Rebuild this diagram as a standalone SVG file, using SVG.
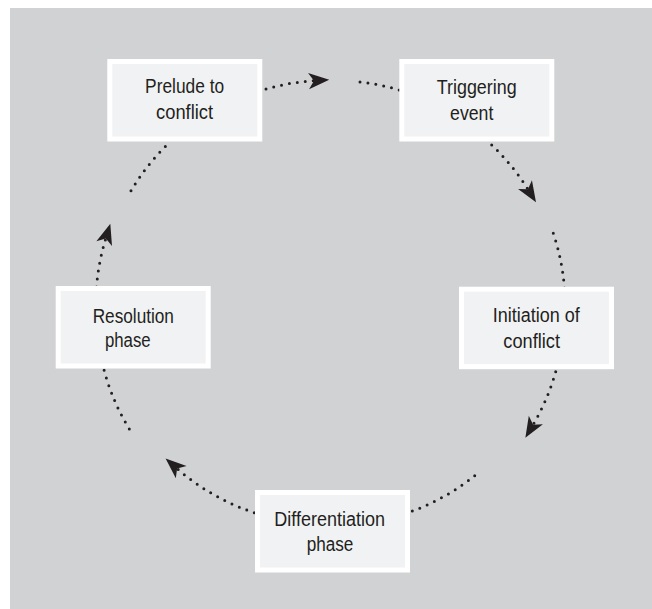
<svg xmlns="http://www.w3.org/2000/svg" width="652" height="609" viewBox="0 0 652 609">
<style>
.box{fill:#f1f2f4;stroke:#ffffff;stroke-width:5}
.lbl{font-family:"Liberation Sans",Arial,sans-serif;font-size:19.5px;fill:#231f20;text-anchor:middle}
.dot{fill:none;stroke:#231f20;stroke-width:3;stroke-linecap:round;stroke-dasharray:0 8}
.arr{marker-end:url(#head)}
</style>
<defs>
<marker id="head" markerUnits="userSpaceOnUse" markerWidth="24" markerHeight="20" viewBox="-1 -9 22 18" refX="5" refY="0" orient="auto">
<path d="M19,0 L0,-7.5 L5,0 L0,7.5 Z" fill="#231f20"/>
</marker>
</defs>
<rect x="10" y="8" width="642" height="601" fill="#d1d2d4"/>
<g id="connectors">
<path class="dot arr" d="M266,89 A225,225 0 0 1 314,80.7"/>
<path class="dot" d="M360,82 A225,225 0 0 1 401,90.5"/>
<path class="dot arr" d="M491.7,145 A225,225 0 0 1 527.9,189.2"/>
<path class="dot" d="M553.3,233.3 A225,225 0 0 1 564.5,289"/>
<path class="dot arr" d="M555.7,371.7 A225,225 0 0 1 533.1,424.7"/>
<path class="dot" d="M474.7,475.7 A225,225 0 0 1 407,513"/>
<path class="dot arr" d="M254.3,512.7 A225,225 0 0 1 177.1,468.6"/>
<path class="dot" d="M129.3,429 A225,225 0 0 1 103,366"/>
<path class="dot arr" d="M96.5,287 A225,225 0 0 1 105.8,238.4"/>
<path class="dot" d="M131,190.7 A225,225 0 0 1 169,143"/>
</g>
<g id="prelude">
<rect class="box" x="109.8" y="61.5" width="150" height="77.5"/>
<text class="lbl" x="184.6" y="93.3" textLength="79" lengthAdjust="spacingAndGlyphs">Prelude to</text>
<text class="lbl" x="184.6" y="119.3" textLength="57" lengthAdjust="spacingAndGlyphs">conflict</text>
</g>
<g id="triggering">
<rect class="box" x="401.8" y="61.5" width="150" height="77.5"/>
<text class="lbl" x="476.7" y="94" textLength="80" lengthAdjust="spacingAndGlyphs">Triggering</text>
<text class="lbl" x="471.7" y="120" textLength="43.3" lengthAdjust="spacingAndGlyphs">event</text>
</g>
<g id="initiation">
<rect class="box" x="461.5" y="289.2" width="150" height="77.5"/>
<text class="lbl" x="536.3" y="321.7" textLength="87" lengthAdjust="spacingAndGlyphs">Initiation of</text>
<text class="lbl" x="531.7" y="347.7" textLength="56.7" lengthAdjust="spacingAndGlyphs">conflict</text>
</g>
<g id="differentiation">
<rect class="box" x="257.5" y="492.5" width="150" height="77.5"/>
<text class="lbl" x="329.7" y="526" textLength="110.7" lengthAdjust="spacingAndGlyphs">Differentiation</text>
<text class="lbl" x="330" y="550.5" textLength="46.7" lengthAdjust="spacingAndGlyphs">phase</text>
</g>
<g id="resolution">
<rect class="box" x="58.2" y="288.5" width="150" height="77.5"/>
<text class="lbl" x="133.3" y="322.7" textLength="81.3" lengthAdjust="spacingAndGlyphs">Resolution</text>
<text class="lbl" x="127.8" y="347.3" textLength="45.7" lengthAdjust="spacingAndGlyphs">phase</text>
</g>
</svg>
